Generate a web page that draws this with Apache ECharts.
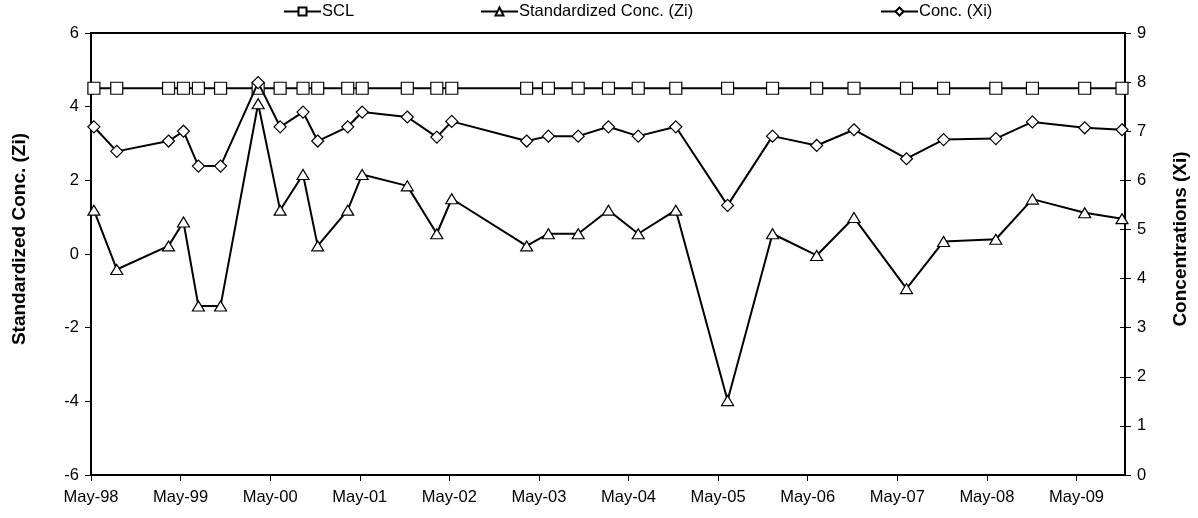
<!DOCTYPE html>
<html>
<head>
<meta charset="utf-8">
<script src="https://cdn.jsdelivr.net/npm/echarts@6/dist/echarts.min.js"></script>
<style>
  html, body { margin: 0; padding: 0; background: #fff; }
  #chart { width: 1198px; height: 518px; }
</style>
</head>
<body>
<div id="chart"></div>
<script>
// Sampling dates
const sampleDates = [
  '1998-05-13', '1998-08-15', '1999-03-13', '1999-05-13', '1999-07-13', '1999-10-12',
  '2000-03-13', '2000-06-11', '2000-09-13', '2000-11-12', '2001-03-13', '2001-05-11',
  '2001-11-12', '2002-03-11', '2002-05-11', '2003-03-12', '2003-06-09', '2003-10-09',
  '2004-02-10', '2004-06-10', '2004-11-11', '2005-06-09', '2005-12-10', '2006-06-07',
  '2006-11-07', '2007-06-08', '2007-11-07', '2008-06-07', '2008-11-04', '2009-06-04',
  '2009-11-04'
];

// Standardized concentration (Zi)
const ziValues = [
  1.19, -0.42, 0.22, 0.87, -1.41, -1.41,
  4.08, 1.19, 2.16, 0.22, 1.19, 2.16,
  1.85, 0.55, 1.50, 0.22, 0.55, 0.55,
  1.19, 0.55, 1.19, -3.98, 0.55, -0.04,
  0.99, -0.94, 0.34, 0.40, 1.49, 1.12,
  0.96
];

// Concentration (Xi)
const xiValues = [
  7.09, 6.59, 6.80, 7.00, 6.29, 6.29,
  7.99, 7.09, 7.39, 6.80, 7.09, 7.39,
  7.29, 6.88, 7.20, 6.80, 6.90, 6.90,
  7.09, 6.90, 7.09, 5.49, 6.90, 6.71,
  7.03, 6.44, 6.83, 6.85, 7.19, 7.07,
  7.03
];

// Shewhart control limit (SCL)
const sclValues = [
  4.5, 4.5, 4.5, 4.5, 4.5, 4.5,
  4.5, 4.5, 4.5, 4.5, 4.5, 4.5,
  4.5, 4.5, 4.5, 4.5, 4.5, 4.5,
  4.5, 4.5, 4.5, 4.5, 4.5, 4.5,
  4.5, 4.5, 4.5, 4.5, 4.5, 4.5,
  4.5
];

// Date axis tick labels, one per May
const xTickLabels = [
  'May-98', 'May-99', 'May-00', 'May-01', 'May-02', 'May-03',
  'May-04', 'May-05', 'May-06', 'May-07', 'May-08', 'May-09'
];

// Months elapsed since 1 May 1998
function monthsSinceStart(s) {
  const [y, m, d] = s.split('-').map(Number);
  const daysInMonth = new Date(y, m, 0).getDate();
  return (y - 1998) * 12 + (m - 5) + (d - 1) / daysInMonth;
}

const xs = sampleDates.map(monthsSinceStart);
const pairs = vals => vals.map((v, i) => [xs[i], v]);

const FONT = 'Liberation Sans, Arial, sans-serif';
const chart = echarts.init(document.getElementById('chart'), null, { renderer: 'canvas' });

const markerStyle = { color: '#fff', borderColor: '#000', borderWidth: 1.2 };
const lineStyle = { color: '#000', width: 2 };
const legendText = { fontFamily: FONT, fontSize: 16.5, color: '#000', padding: [0, 0, 0, -4] };
// axis titles sit a little above the vertical middle of the plot
const titleText = { color: '#000', fontSize: 19, fontWeight: 'bold', fontFamily: FONT, padding: [0, 0, 0, 30] };

chart.setOption({
  animation: false,
  backgroundColor: '#fff',
  textStyle: { fontFamily: FONT },
  grid: {
    left: 91, right: 67, top: 33, bottom: 43,
    show: true, borderColor: '#000', borderWidth: 2, containLabel: false
  },
  legend: [
    { data: ['SCL'], left: 283, top: 3, padding: 0, itemWidth: 37, itemHeight: 10, textStyle: legendText },
    { data: ['Standardized Conc. (Zi)'], left: 480, top: 3, padding: 0, itemWidth: 37, itemHeight: 10, textStyle: legendText },
    { data: ['Conc. (Xi)'], left: 880, top: 3, padding: 0, itemWidth: 37, itemHeight: 10, textStyle: legendText }
  ],
  xAxis: {
    type: 'value',
    min: 0,
    max: 138.5,
    interval: 12,
    axisLine: { show: true, onZero: false, lineStyle: { color: '#000', width: 2 } },
    axisTick: { show: true, length: 6, lineStyle: { color: '#000', width: 1 } },
    splitLine: { show: false },
    axisLabel: {
      color: '#000', fontSize: 16.5, fontFamily: FONT, margin: 14,
      showMaxLabel: false,
      formatter: v => {
        const k = Math.round(v / 12);
        return Math.abs(v - k * 12) < 1e-6 && k < xTickLabels.length ? xTickLabels[k] : '';
      }
    }
  },
  yAxis: [
    {
      type: 'value',
      position: 'left',
      min: -6, max: 6, interval: 2,
      name: 'Standardized Conc. (Zi)',
      nameLocation: 'middle',
      nameRotate: 90,
      nameGap: 62,
      nameTextStyle: titleText,
      axisLine: { show: true, onZero: false, lineStyle: { color: '#000', width: 2 } },
      axisTick: { show: true, length: 6, lineStyle: { color: '#000', width: 1 } },
      splitLine: { show: false },
      axisLabel: { color: '#000', fontSize: 16.5, fontFamily: FONT, margin: 12 }
    },
    {
      type: 'value',
      position: 'right',
      min: 0, max: 9, interval: 1,
      name: 'Concentrations (Xi)',
      nameLocation: 'middle',
      nameRotate: 90,
      nameGap: 46,
      nameTextStyle: titleText,
      axisLine: { show: true, onZero: false, lineStyle: { color: '#000', width: 2 } },
      axisTick: { show: true, length: 6, lineStyle: { color: '#000', width: 1 } },
      splitLine: { show: false },
      axisLabel: { color: '#000', fontSize: 16.5, fontFamily: FONT, margin: 12 }
    },
    {
      // inner half of the crossing ticks on the right-hand axis
      type: 'value',
      position: 'right',
      min: 0, max: 9, interval: 1,
      axisLine: { show: false, onZero: false },
      axisTick: { show: true, inside: true, length: 5, lineStyle: { color: '#000', width: 1 } },
      axisLabel: { show: false },
      splitLine: { show: false }
    }
  ],
  series: [
    {
      name: 'SCL',
      type: 'line',
      yAxisIndex: 0,
      data: pairs(sclValues),
      symbol: 'rect',
      symbolSize: 12,
      showAllSymbol: true,
      lineStyle: lineStyle,
      itemStyle: markerStyle,
      z: 2
    },
    {
      name: 'Standardized Conc. (Zi)',
      type: 'line',
      yAxisIndex: 0,
      data: pairs(ziValues),
      symbol: 'triangle',
      symbolSize: [12, 10],
      showAllSymbol: true,
      lineStyle: lineStyle,
      itemStyle: markerStyle,
      z: 3
    },
    {
      name: 'Conc. (Xi)',
      type: 'line',
      yAxisIndex: 1,
      data: pairs(xiValues),
      symbol: 'diamond',
      symbolSize: [12, 12],
      showAllSymbol: true,
      lineStyle: lineStyle,
      itemStyle: markerStyle,
      z: 4
    }
  ]
});
</script>
</body>
</html>
